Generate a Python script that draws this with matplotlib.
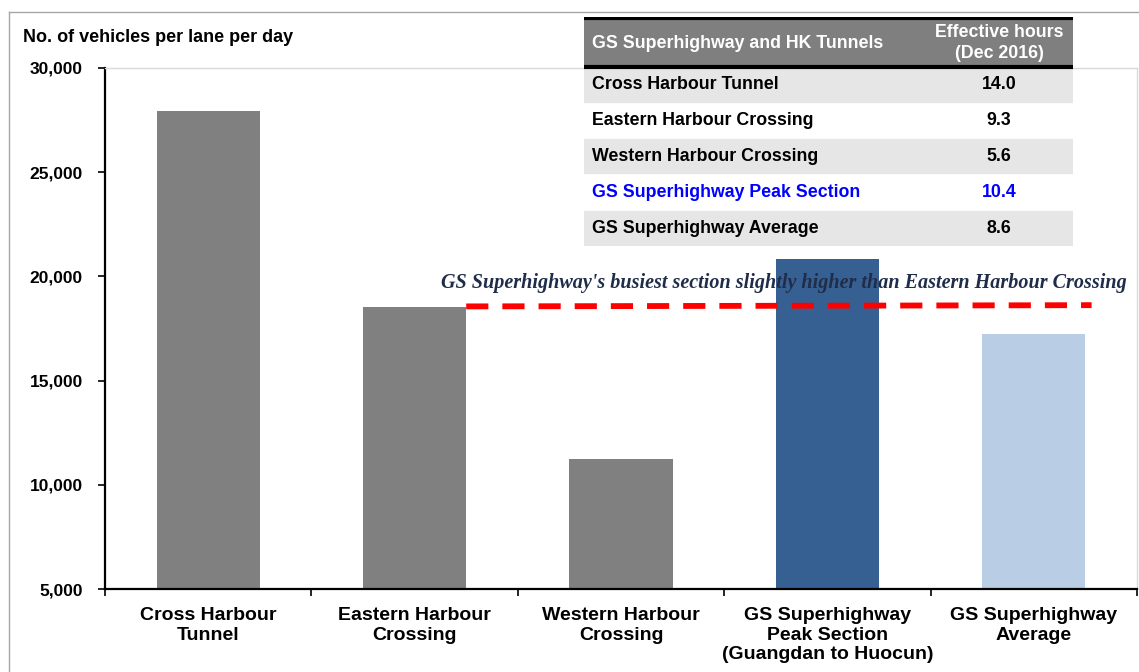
import matplotlib.pyplot as plt
from matplotlib.lines import Line2D
from matplotlib.patches import Rectangle
import numpy as np

# bar data
categories = ["Cross Harbour\nTunnel", "Eastern Harbour\nCrossing", "Western Harbour\nCrossing",
              "GS Superhighway\nPeak Section\n(Guangdan to Huocun)", "GS Superhighway\nAverage"]
vehicles = [27950, 18550, 11250, 20850, 17250]
bar_colors = ["#808080", "#808080", "#808080", "#376092", "#b9cde5"]

# inset table data
table_header = ["GS Superhighway and HK Tunnels", "Effective hours\n(Dec 2016)"]
table_names = ["Cross Harbour Tunnel", "Eastern Harbour Crossing", "Western Harbour Crossing",
               "GS Superhighway Peak Section", "GS Superhighway Average"]
table_hours = ["14.0", "9.3", "5.6", "10.4", "8.6"]
table_text_colors = ["black", "black", "black", "#0000ff", "black"]

# dashed comparison line (from EHC bar to right side)
line_x = [1.25, 4.28]
line_y = [18560, 18620]
note = "GS Superhighway's busiest section slightly higher than Eastern Harbour Crossing"

W, H = 1139, 672
plt.rcParams["font.family"] = ["Liberation Sans", "DejaVu Sans"]
plt.rcParams["font.weight"] = "bold"

fig = plt.figure(figsize=(W / 100, H / 100), dpi=100)
ax = fig.add_axes([105 / W, 1 - 589 / H, (1137 - 105) / W, (589 - 68) / H])

x = np.arange(len(categories))
ax.bar(x, vehicles, width=0.5, color=bar_colors, zorder=2)
ax.set_xlim(-0.5, len(categories) - 0.5)
ax.set_ylim(5000, 30000)
ax.set_yticks(range(5000, 30001, 5000))
ax.set_yticklabels([f"{v:,}" for v in range(5000, 30001, 5000)], fontsize=12.5, fontweight="bold")
ax.set_xticks(x)
ax.set_xticklabels(categories, fontsize=14, fontweight="bold", linespacing=1.2)
ax.set_xticks(np.arange(-0.5, len(categories)), minor=True)
ax.tick_params(axis="x", which="major", length=0, pad=13)
ax.tick_params(axis="x", which="minor", length=5, width=1.2, direction="out")
ax.tick_params(axis="y", length=5, width=1.2, direction="out", pad=11)

for side in ["left", "bottom"]:
    ax.spines[side].set_linewidth(1.6)
    ax.spines[side].set_color("black")
for side in ["top", "right"]:
    ax.spines[side].set_linewidth(1)
    ax.spines[side].set_color("#d9d9d9")

ax.plot(line_x, line_y, color="#ff0000", lw=4.2, linestyle=(0, (3.8, 2.4)), zorder=3)
ax.text(2.79, 19680, note, ha="center", va="center", fontsize=14.5, color="#1f2d4a",
        family="Liberation Serif", style="italic", fontweight="bold", zorder=4)

fig.text(23 / W, 1 - 37 / H, "No. of vehicles per lane per day", fontsize=13,
         fontweight="bold", ha="left", va="center")

# outer frame
fig.add_artist(Line2D([9 / W, 9 / W], [0, 1 - 12 / H], color="#a6a6a6", lw=1))
fig.add_artist(Line2D([9 / W, 1], [1 - 12 / H, 1 - 12 / H], color="#a6a6a6", lw=1))

# inset table
tab = fig.add_axes([584 / W, 1 - 246 / H, (1073 - 584) / W, (246 - 17) / H])
tab.set_xlim(0, 1)
n = len(table_names)
row_h = 36
head_h = 50
total = head_h + n * row_h
tab.set_ylim(total, 0)
tab.axis("off")
tab.add_patch(Rectangle((0, 0), 1, head_h, color="#7f7f7f", zorder=1))
tab.plot([0, 1], [1, 1], color="black", lw=3, zorder=2)
tab.plot([0, 1], [head_h, head_h], color="black", lw=3, zorder=2)
tab.text(8 / 489, head_h / 2 + 2, table_header[0], color="white", fontsize=12.8,
         fontweight="bold", ha="left", va="center")
tab.text(0.849, head_h / 2 + 1, table_header[1], color="white", fontsize=12.8,
         fontweight="bold", ha="center", va="center", linespacing=1.3)
for i, (name, hrs, tc) in enumerate(zip(table_names, table_hours, table_text_colors)):
    y0 = head_h + i * row_h
    if i % 2 == 0:
        tab.add_patch(Rectangle((0, y0 + 1), 1, row_h - 2, color="#e6e6e6", zorder=1))
    tab.text(8 / 489, y0 + row_h / 2, name, color=tc, fontsize=12.8, fontweight="bold",
             ha="left", va="center")
    tab.text(0.849, y0 + row_h / 2, hrs, color=tc, fontsize=12.8, fontweight="bold",
             ha="center", va="center")

fig.savefig("out.png", dpi=100)
